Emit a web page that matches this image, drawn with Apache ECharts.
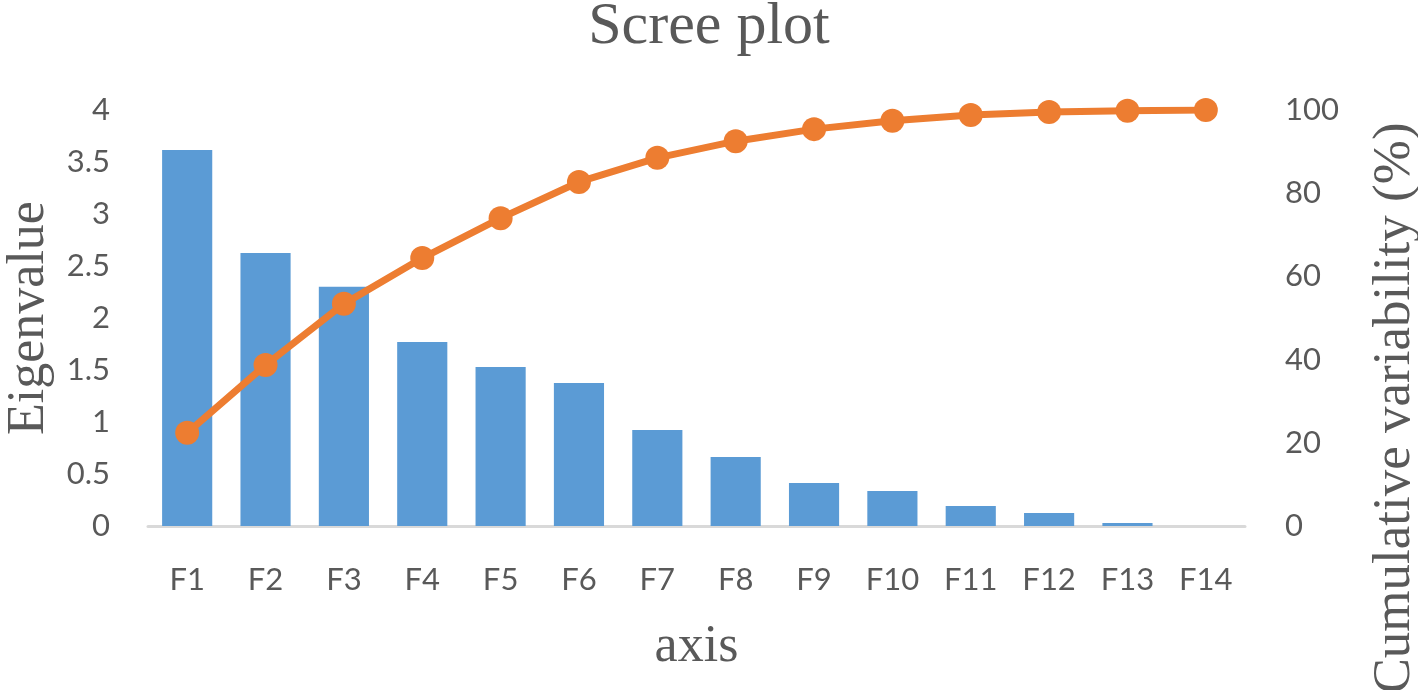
<!DOCTYPE html>
<html>
<head>
<meta charset="utf-8">
<script src="https://cdn.jsdelivr.net/npm/echarts@6/dist/echarts.min.js"></script>
<style>
  html, body { margin: 0; padding: 0; background: #fff; }
  #main { width: 1418px; height: 690px; }
</style>
</head>
<body>
<div id="main"></div>
<script>
// data
var factors = ['F1','F2','F3','F4','F5','F6','F7','F8','F9','F10','F11','F12','F13','F14'];
var eigenvalues = [3.615, 2.625, 2.30, 1.77, 1.53, 1.375, 0.923, 0.663, 0.413, 0.337, 0.192, 0.125, 0.03, 0];
var cumulative = [22.4, 38.7, 53.4, 64.4, 74.0, 82.7, 88.5, 92.5, 95.4, 97.4, 98.8, 99.5, 99.8, 100];

var grey = '#595959';
var serif = '"Liberation Serif", "DejaVu Serif", serif';
var sans = 'Lato, "Open Sans", sans-serif';

var chart = echarts.init(document.getElementById('main'));
chart.setOption({
  backgroundColor: '#fff',
  animation: false,
  title: {
    text: 'Scree plot',
    left: 'center',
    top: -8,
    textStyle: { fontFamily: serif, fontSize: 60, fontWeight: 'normal', color: grey }
  },
  grid: { left: 148, right: 173, top: 110, bottom: 164, outerBoundsMode: 'none' },
  xAxis: {
    type: 'category',
    data: factors,
    name: 'axis',
    nameLocation: 'middle',
    nameGap: 95,
    nameTextStyle: { fontFamily: serif, fontSize: 52, color: grey },
    axisLine: { lineStyle: { color: '#d9d9d9', width: 3 } },
    axisTick: { show: false },
    axisLabel: { fontFamily: sans, fontSize: 31, color: grey, margin: 38 }
  },
  yAxis: [
    {
      type: 'value',
      min: 0, max: 4, interval: 0.5,
      name: 'Eigenvalue',
      nameLocation: 'middle',
      nameGap: 84,
      nameTextStyle: { fontFamily: serif, fontSize: 52, color: grey },
      splitLine: { show: false },
      axisLine: { show: false },
      axisTick: { show: false },
      axisLabel: { fontFamily: sans, fontSize: 31, color: grey, margin: 38 }
    },
    {
      type: 'value',
      min: 0, max: 100, interval: 20,
      position: 'right',
      splitLine: { show: false },
      axisLine: { show: false },
      axisTick: { show: false },
      axisLabel: { fontFamily: sans, fontSize: 31, color: grey, margin: 40 }
    }
  ],
  graphic: [{
    type: 'text',
    x: 1395,
    y: 408,
    rotation: Math.PI / 2,
    style: {
      text: 'Cumulative variability (%)',
      font: '53px ' + serif,
      fill: grey,
      align: 'center',
      verticalAlign: 'middle'
    }
  }],
  series: [
    {
      type: 'bar',
      data: eigenvalues,
      barWidth: '64%',
      itemStyle: { color: '#5b9bd5' }
    },
    {
      type: 'line',
      yAxisIndex: 1,
      data: cumulative,
      symbol: 'circle',
      symbolSize: 24,
      lineStyle: { color: '#ed7d31', width: 7 },
      itemStyle: { color: '#ed7d31' }
    }
  ]
});
</script>
</body>
</html>
